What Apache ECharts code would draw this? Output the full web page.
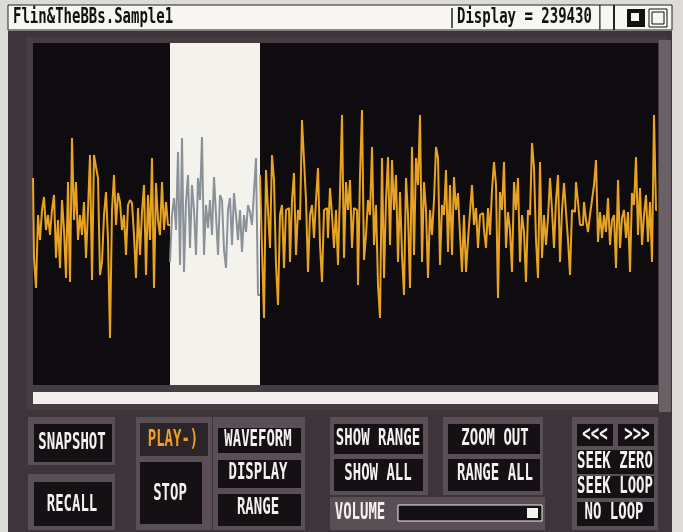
<!DOCTYPE html>
<html>
<head>
<meta charset="utf-8">
<script src="https://cdn.jsdelivr.net/npm/echarts@6/dist/echarts.min.js"></script>
<style>
html, body { margin: 0; padding: 0; background: #dddbd7; }
#main { width: 683px; height: 532px; }
</style>
</head>
<body>
<div id="main"></div>
<script>
// sample amplitudes, left part / selected range / right part
var waveA = [42, -38, -68, 5, -20, 10, 23, -10, 5, -15,
	10, 25, -38, 0, -48, 20, -10, -58, 38, -62,
	82, 0, 38, -20, 5, -15, 18, -38, 10, 65,
	-60, 65, 53, 42, -55, -42, 5, 28, -20, -118,
	10, 45, -5, 27, 18, -10, 5, -35, 15, 20,
	17, -15, -58, 12, -35, 8, 35, -55, 25, -20,
	62, -68, 37, 0, -15, 38, -10, 18, -5];
var waveB = [-42, 5, 22, -10, 68, -45, 82, -52, 18, 45,
	-28, 35, 10, -35, 42, 20, 83, -35, 15, -8,
	20, -15, 43, 5, -35, 25, 20, -30, -48, 10,
	22, -25, 27, 5, -20, 10, -32, 5, -12, 15,
	8, -5, 28, 62, -75];
var waveC = [45, -30, -98, 50, 10, -28, 65, 40, -45, -85,
	5, 15, -48, 10, 12, -42, 20, 47, -35, 10,
	0, 100, 60, 20, -52, 5, 15, -18, 20, 52,
	-25, -62, 10, 12, -18, 32, 5, -28, 10, -45,
	28, 105, -38, 38, 10, 40, -28, 12, 10, -65,
	45, 110, -40, -15, 20, 5, 73, -25, 15, -65,
	-98, 62, -58, 20, 63, -25, 60, 10, 45, -42,
	28, -35, -75, 42, 5, -68, 73, -35, 62, 35,
	105, -42, 38, 10, -58, 10, -15, 20, 73, 62,
	-45, 15, 5, 50, -32, 35, -35, 43, 10, 27,
	-15, -52, 5, -52, -20, 8, 35, -5, 12, -28,
	5, 7, -10, -28, 12, -15, 30, 58, 35, -78,
	28, 10, 58, -28, 8, -10, -52, 38, 10, 42,
	-42, 5, -12, -62, 10, 5, 77, 52, -20, -58,
	58, -38, 5, -25, 2, 42, 10, -28, 20, 45,
	-42, 10, 37, 8, -20, -55, 10, 8, 38, 18,
	-5, -5, 18, 0, -12, 5, 20, 35, 60, -22,
	8, -18, 5, -12, 22, -25, 0, 5, -48, 40,
	-28, 2, 10, -18, 8, -52, 27, 15, 63, -15,
	32, -25, 5, 25, -22, 18, -42, 105, 10];

var titleText = 'Flin&TheBBs.Sample1';
var displayText = 'Display = 239430';

var wave = waveA.concat(waveB, waveC);
var selStart = waveA.length;
var selEnd = selStart + waveB.length - 1;
var yMin = -165, yMax = 177;

var outside = [], inside = [];
for (var i = 0; i < wave.length; i++) {
	var inSel = i >= selStart && i <= selEnd;
	outside.push([i, inSel ? null : wave[i]]);
	inside.push([i, inSel ? wave[i] : null]);
}

var FONT = '"DejaVu Sans Mono", monospace';
var PANEL = '#5a4f56';
var HOLE = '#141014';

function box(x, y, w, h, fill, stroke) {
	return {
		type: 'rect', z: 1,
		shape: {x: x, y: y, width: w, height: h},
		style: {fill: fill, stroke: stroke || null, lineWidth: stroke ? 1 : 0}
	};
}
function label(t, x, y, color) {
	return {
		type: 'text', z: 5, x: x, y: y, scaleY: 1.7,
		style: {
			text: t, fill: color || '#f4f2ee',
			font: 'bold 14px ' + FONT,
			textAlign: 'center', textVerticalAlign: 'middle', verticalAlign: 'middle'
		}
	};
}

var g = [];
// screen frame
g.push(box(0, 0, 683, 532, '#dddbd7'));
g.push(box(8, 31, 664, 501, '#3d353a'));
g.push(box(26, 37, 640, 373, '#463d43'));
g.push(box(659, 40, 12, 372, '#6a6066'));
g.push(box(33, 43, 625, 342, '#0e0c0f'));
g.push(box(33, 392, 625, 12, '#f2f0ec'));
// title bar
g.push(box(8, 5, 592, 25, '#f7f6f3', '#222'));
g.push({type: 'line', z: 2, shape: {x1: 452, y1: 8, x2: 452, y2: 28}, style: {stroke: '#222', lineWidth: 1.5}});
g.push(box(600, 5, 72, 25, '#f7f6f3', '#222'));
g.push({type: 'line', z: 2, shape: {x1: 614, y1: 5, x2: 614, y2: 30}, style: {stroke: '#222', lineWidth: 2}});
g.push(box(627, 9, 18, 18, '#111'));
g.push(box(631, 13, 8, 8, '#f7f6f3'));
g.push(box(649, 9, 18, 18, '#f7f6f3', '#111'));
g.push(box(652, 12, 12, 12, '#f7f6f3', '#111'));
g.push({type: 'text', z: 5, x: 13, y: 18, scaleY: 1.5,
	style: {text: titleText, fill: '#111', font: 'bold 14px ' + FONT, textAlign: 'left', textVerticalAlign: 'middle', verticalAlign: 'middle'}});
g.push({type: 'text', z: 5, x: 457, y: 18, scaleY: 1.5,
	style: {text: displayText, fill: '#111', font: 'bold 14px ' + FONT, textAlign: 'left', textVerticalAlign: 'middle', verticalAlign: 'middle'}});

// buttons
g.push(box(28, 417, 87, 48, PANEL), box(34, 424, 78, 38, HOLE));
g.push(box(28, 474, 87, 56, PANEL), box(34, 482, 78, 44, HOLE));
g.push(box(136, 417, 76, 113, PANEL), box(140, 423, 68, 33, '#2b2529'), box(140, 462, 62, 62, HOLE));
g.push(box(213, 417, 92, 113, PANEL), box(218, 428, 83, 25, HOLE), box(218, 460, 83, 28, HOLE), box(218, 494, 83, 32, HOLE));
g.push(box(330, 417, 98, 78, PANEL), box(334, 424, 89, 30, HOLE), box(334, 459, 89, 32, HOLE));
g.push(box(443, 417, 100, 78, PANEL), box(448, 424, 92, 30, HOLE), box(448, 459, 92, 32, HOLE));
g.push(box(330, 497, 215, 33, PANEL));
g.push(box(398, 505, 144, 16, HOLE, '#f4f2ee'), box(527, 508, 11, 10, '#f4f2ee'));
g.push(box(572, 417, 86, 113, PANEL));
g.push(box(577, 424, 36, 22, HOLE), box(618, 424, 36, 22, HOLE));
g.push(box(577, 450, 77, 24, HOLE), box(577, 476, 77, 22, HOLE), box(577, 502, 77, 24, HOLE));

g.push(label('SNAPSHOT', 72, 443), label('RECALL', 72, 505));
g.push(label('PLAY-)', 173, 440, '#f0a020'), label('STOP', 170, 494));
g.push(label('WAVEFORM', 258, 440), label('DISPLAY', 258, 473), label('RANGE', 258, 508));
g.push(label('SHOW RANGE', 378, 439), label('SHOW ALL', 378, 474));
g.push(label('ZOOM OUT', 495, 439), label('RANGE ALL', 495, 474));
g.push(label('VOLUME', 360, 513));
g.push(label('<<<', 595, 435), label('>>>', 637, 435));
g.push(label('SEEK ZERO', 615, 462), label('SEEK LOOP', 615, 487), label('NO LOOP', 614, 513));

var myChart = echarts.init(document.getElementById('main'));
var option = {
	animation: false,
	backgroundColor: '#dddbd7',
	graphic: {elements: g},
	grid: {left: 33, top: 43, width: 624, height: 342},
	xAxis: {type: 'value', min: 0, max: wave.length - 1, show: false},
	yAxis: {type: 'value', min: yMin, max: yMax, show: false},
	series: [
		{
			name: 'range',
			type: 'line',
			data: [],
			markArea: {
				silent: true,
				itemStyle: {color: '#f4f2ed', opacity: 1},
				data: [[{coord: [selStart - 0.5, yMax]}, {coord: [selEnd + 0.5, yMin]}]]
			}
		},
		{
			name: 'selected',
			type: 'line',
			step: 'middle',
			z: 4,
			data: inside,
			showSymbol: false,
			lineStyle: {color: '#8b9199', width: 2}
		},
		{
			name: 'sample',
			type: 'line',
			step: 'middle',
			z: 5,
			data: outside,
			showSymbol: false,
			lineStyle: {color: '#e8a322', width: 2}
		}
	]
};
myChart.setOption(option);
</script>
</body>
</html>
